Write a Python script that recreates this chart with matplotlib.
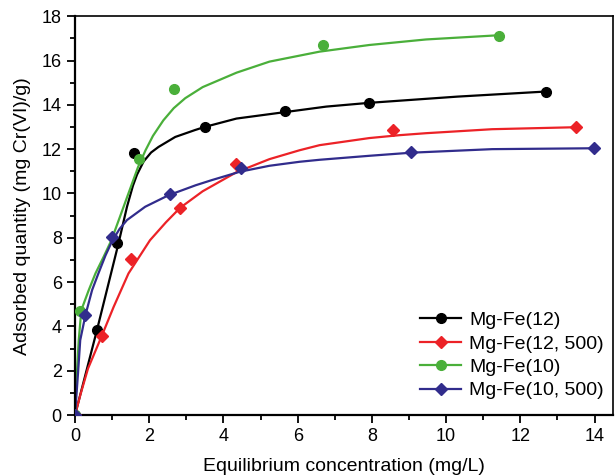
import matplotlib
matplotlib.use("Agg")
import matplotlib.pyplot as plt
from matplotlib.lines import Line2D
from matplotlib.ticker import MultipleLocator

plt.rcParams['font.family'] = ['Liberation Sans', 'DejaVu Sans']

# measured points
c_12 = [0, 0.59, 1.13, 1.59, 3.49, 5.67, 7.93, 12.69]
q_12 = [0, 3.83, 7.76, 11.82, 13.0, 13.7, 14.1, 14.6]
c_12_500 = [0, 0.73, 1.5, 2.83, 4.33, 8.58, 13.5]
q_12_500 = [0, 3.56, 7.04, 9.33, 11.35, 12.85, 12.98]
c_10 = [0, 0.13, 1.73, 2.66, 6.67, 11.42]
q_10 = [0, 4.7, 11.56, 14.7, 16.69, 17.1]
c_10_500 = [0, 0.27, 1.0, 2.55, 4.46, 9.06, 13.98]
q_10_500 = [0, 4.5, 8.03, 9.97, 11.13, 11.87, 12.04]

# fitted curves
fit_c_12 = [0, 0.59, 1.17, 1.40, 1.56, 1.67, 1.85, 2.05, 2.25, 2.70, 3.23, 3.49, 4.35,
            5.65, 6.77, 7.93, 10.3, 12.69]
fit_q_12 = [0, 3.83, 7.74, 9.4, 10.35, 10.85, 11.45, 11.85, 12.1, 12.55, 12.86, 13.0, 13.38,
            13.67, 13.92, 14.09, 14.37, 14.6]
fit_c_12_500 = [0, 0.15, 0.35, 0.71, 1.04, 1.44, 2.02, 2.45, 2.83, 3.44, 4.35, 5.24, 6.05,
                6.59, 7.93, 8.74, 9.46, 11.24, 13.5]
fit_q_12_500 = [0, 0.95, 2.1, 3.53, 4.88, 6.39, 7.89, 8.7, 9.35, 10.1, 10.96, 11.55, 11.95,
                12.18, 12.5, 12.63, 12.72, 12.9, 12.99]
fit_c_10 = [0, 0.05, 0.10, 0.17, 0.37, 0.55, 0.77, 0.98, 1.2, 1.45, 1.7, 1.9, 2.1, 2.38,
            2.66, 2.97, 3.44, 4.35, 5.24, 6.59, 7.93, 9.46, 11.42]
fit_q_10 = [0, 1.88, 3.38, 4.74, 5.64, 6.39, 7.14, 7.89, 8.9, 10.05, 11.2, 11.95, 12.6, 13.3,
            13.85, 14.3, 14.8, 15.45, 15.95, 16.4, 16.7, 16.95, 17.14]
fit_c_10_500 = [0, 0.08, 0.14, 0.28, 0.46, 0.62, 0.82, 1.0, 1.2, 1.4, 1.89, 2.52, 3.25, 3.68,
                4.44, 5.24, 6.05, 6.59, 7.93, 9.06, 11.24, 13.98]
fit_q_10_500 = [0, 1.88, 3.38, 4.51, 5.64, 6.35, 7.2, 7.85, 8.4, 8.8, 9.4, 9.92, 10.37, 10.6,
                10.98, 11.25, 11.43, 11.52, 11.7, 11.84, 12.0, 12.04]

labels = ['Mg-Fe(12)', 'Mg-Fe(12, 500)', 'Mg-Fe(10)', 'Mg-Fe(10, 500)']
colors = ['#000000', '#ec2227', '#4aaf3a', '#312c8c']
markers = ['o', 'D', 'o', 'D']

fig = plt.figure(figsize=(6.15, 4.76), dpi=100)
ax = fig.add_axes([0.122, 0.128, 0.875, 0.838])

points = [(c_12, q_12), (c_12_500, q_12_500), (c_10, q_10), (c_10_500, q_10_500)]
fits = [(fit_c_12, fit_q_12), (fit_c_12_500, fit_q_12_500), (fit_c_10, fit_q_10),
        (fit_c_10_500, fit_q_10_500)]

handles = []
for i in range(len(labels)):
    ms = 7 if markers[i] == 'o' else 6.5
    ax.plot(fits[i][0], fits[i][1], color=colors[i], lw=1.6, zorder=2,
            solid_joinstyle='round')
    ax.plot(points[i][0], points[i][1], ls='none', marker=markers[i], ms=ms,
            color=colors[i], zorder=3)
    handles.append(Line2D([], [], color=colors[i], lw=1.6, marker=markers[i], ms=ms))

ax.set_xlim(0, 14.5)
ax.set_ylim(0, 18)
ax.xaxis.set_major_locator(MultipleLocator(2))
ax.xaxis.set_minor_locator(MultipleLocator(1))
ax.yaxis.set_major_locator(MultipleLocator(2))
ax.yaxis.set_minor_locator(MultipleLocator(1))
ax.tick_params(which='major', direction='out', length=6, width=1.3, labelsize=13)
ax.tick_params(which='minor', direction='out', length=3.5, width=1.3)

for s in ['left', 'bottom']:
    ax.spines[s].set_linewidth(1.6)
for s in ['top', 'right']:
    ax.spines[s].set_linewidth(1.2)

ax.set_xlabel('Equilibrium concentration (mg/L)', fontsize=14, labelpad=9)
ax.set_ylabel('Adsorbed quantity (mg Cr(VI)/g)', fontsize=14, labelpad=8)

ax.legend(handles, labels, loc='lower right', frameon=False, fontsize=14,
          handlelength=2.15, handletextpad=0.4, labelspacing=0.3,
          borderaxespad=0.3, bbox_to_anchor=(1.008, 0.005))

fig.savefig('out.png', dpi=100)
